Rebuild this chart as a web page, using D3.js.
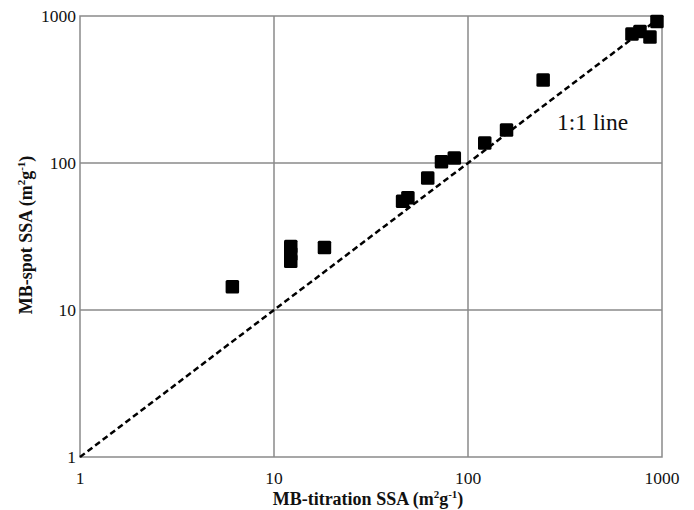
<!DOCTYPE html>
<html>
<head>
<meta charset="utf-8">
<script src="https://cdn.jsdelivr.net/npm/d3@7"></script>
<style>
  html, body { margin: 0; padding: 0; background: #fff; }
  svg { display: block; }
</style>
</head>
<body>
<svg id="chart" width="694" height="510"></svg>
<script>
// MB-titration SSA (x) versus MB-spot SSA (y), both in m2/g
const titrationSSA = [6.1, 12.2, 12.2, 12.2, 18.2, 46, 49, 62, 73, 85, 122, 158, 244, 700, 770, 867, 942];
const spotSSA      = [14.4, 21.5, 24, 27, 26.6, 55, 58, 79, 102, 108, 137, 168, 367, 754, 785, 720, 918];
const tickValues   = [1, 10, 100, 1000];
const tickLabels   = ["1", "10", "100", "1000"];
const oneToOne     = [1, 1000];

const serif = "Liberation Serif";
const svg = d3.select("#chart");
const plotLeft = 80, plotRight = 662, plotTop = 16, plotBottom = 457;

const x = d3.scaleLog().domain([1, 1000]).range([plotLeft, plotRight]);
const y = d3.scaleLog().domain([1, 1000]).range([plotBottom, plotTop]);

const gridColor = "#8a8a8a";

// grid lines at each inner decade
svg.append("g").selectAll("line").data(tickValues.slice(1, -1)).join("line")
  .attr("x1", d => x(d)).attr("x2", d => x(d))
  .attr("y1", plotTop).attr("y2", plotBottom)
  .attr("stroke", gridColor).attr("stroke-width", 1.5);
svg.append("g").selectAll("line").data(tickValues.slice(1, -1)).join("line")
  .attr("y1", d => y(d)).attr("y2", d => y(d))
  .attr("x1", plotLeft).attr("x2", plotRight)
  .attr("stroke", gridColor).attr("stroke-width", 1.5);

// plot frame
svg.append("rect")
  .attr("x", plotLeft).attr("y", plotTop)
  .attr("width", plotRight - plotLeft).attr("height", plotBottom - plotTop)
  .attr("fill", "none").attr("stroke", gridColor).attr("stroke-width", 1.5);

// tick labels
svg.append("g").selectAll("text").data(tickValues).join("text")
  .attr("x", d => x(d)).attr("y", 484)
  .attr("text-anchor", "middle")
  .attr("font-family", serif).attr("font-size", 17.5).attr("fill", "#111")
  .text((d, i) => tickLabels[i]);
svg.append("g").selectAll("text").data(tickValues).join("text")
  .attr("x", 76).attr("y", d => y(d) + 6)
  .attr("text-anchor", "end")
  .attr("font-family", serif).attr("font-size", 17.5).attr("fill", "#111")
  .text((d, i) => tickLabels[i]);

// 1:1 reference line
svg.append("line")
  .attr("x1", x(oneToOne[0])).attr("y1", y(oneToOne[0]))
  .attr("x2", x(oneToOne[1])).attr("y2", y(oneToOne[1]))
  .attr("stroke", "#000").attr("stroke-width", 2.5)
  .attr("stroke-dasharray", "6,3.5");

svg.append("text")
  .attr("x", 557).attr("y", 130)
  .attr("font-family", serif).attr("font-size", 23.5).attr("fill", "#111")
  .text("1:1 line");

// data markers
const s = 13.5;
svg.append("g").selectAll("rect").data(titrationSSA).join("rect")
  .attr("x", d => x(d) - s / 2)
  .attr("y", (d, i) => y(spotSSA[i]) - s / 2)
  .attr("width", s).attr("height", s)
  .attr("rx", 1.5)
  .attr("fill", "#000");

// axis titles with superscripts
function unitTitle(sel, main) {
  sel.append("tspan").text(main + " (m");
  sel.append("tspan").attr("font-size", 11).attr("dy", -7).text("2");
  sel.append("tspan").attr("dy", 7).text("g");
  sel.append("tspan").attr("font-size", 11).attr("dy", -7).text("-1");
  sel.append("tspan").attr("dy", 7).text(")");
}

const xTitle = svg.append("text")
  .attr("x", 368).attr("y", 505)
  .attr("text-anchor", "middle")
  .attr("font-family", serif).attr("fill", "#111")
  .attr("font-size", 18).attr("font-weight", "bold");
unitTitle(xTitle, "MB-titration SSA");

const yTitle = svg.append("text")
  .attr("transform", "translate(32,235) rotate(-90)")
  .attr("text-anchor", "middle")
  .attr("font-family", serif).attr("fill", "#111")
  .attr("font-size", 18).attr("font-weight", "bold");
unitTitle(yTitle, "MB-spot SSA");
</script>
</body>
</html>
